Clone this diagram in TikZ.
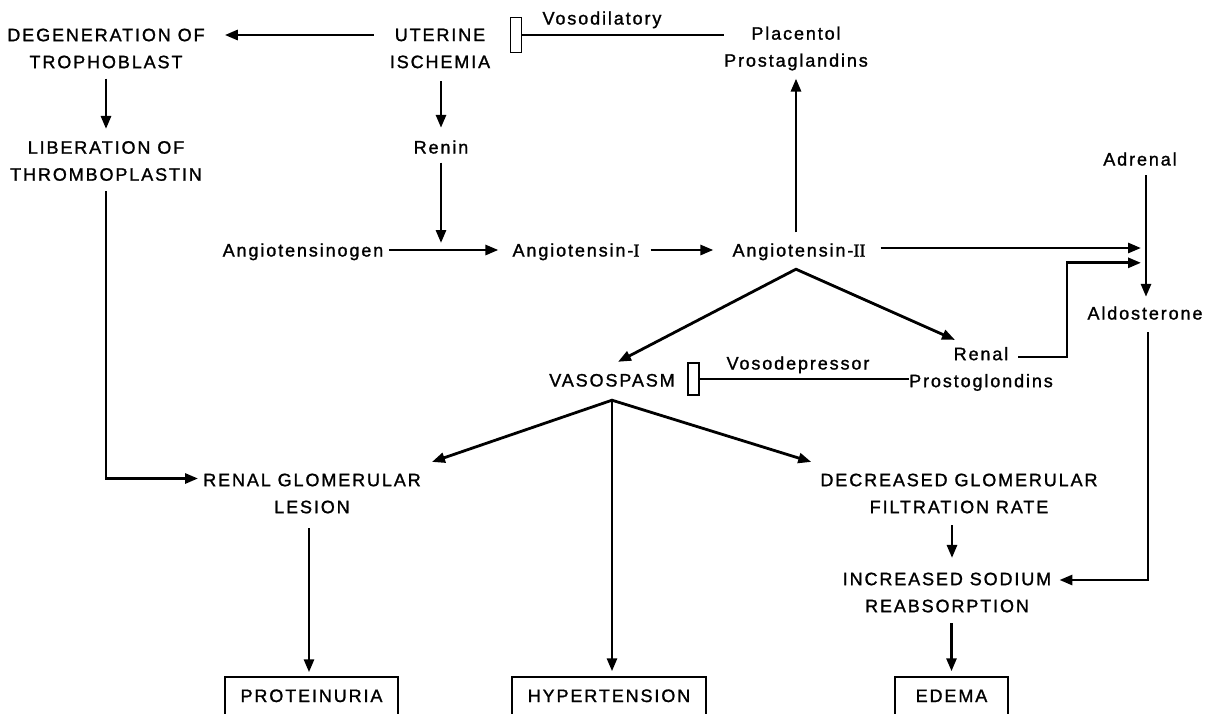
\documentclass[tikz,border=0pt]{standalone}
\usepackage{fontspec}
\setmainfont{Liberation Sans}[LetterSpace=10.5,FakeBold=1.3]
\newfontfamily\numfont{Liberation Serif}[FakeBold=1.3]
\usetikzlibrary{arrows.meta,calc}
\begin{document}
\begin{tikzpicture}[x=1pt,y=-1pt,
  every node/.style={inner sep=0pt, font=\fontsize{18}{27}\selectfont},
  lab/.style={text height=13pt, text depth=0pt},
  two/.style={align=center},
  arr/.style={line width=2.8pt, -{Triangle[length=13pt,width=10pt]}},
  arrboth/.style={line width=2.8pt, {Triangle[length=13pt,width=10pt]}-{Triangle[length=13pt,width=10pt]}},
  ln/.style={line width=2.6pt},
  bar/.style={draw, line width=1.5pt, minimum width=11pt, minimum height=35pt},
  res/.style={draw, line width=1.5pt, minimum height=41pt, text height=13pt, text depth=4pt}
]
\useasboundingbox (0,0) rectangle (1216,713);

% nodes
\node[two] (deg) at (106,48.5) {DEGENERATION OF\\TROPHOBLAST};
\node[two] (ut) at (440,48.5) {UTERINE\\ISCHEMIA};
\node[two] (plac) at (796,48.5) {Placentol\\Prostaglandins};
\node[bar] (bar1) at (516,35) {};
\node[lab] (vdil) at (602,18) {Vosodilatory};
\node[two] (lib) at (106,161) {LIBERATION OF\\THROMBOPLASTIN};
\node[lab] (renin) at (441,147) {Renin};
\node[lab] (agen) at (303,250) {Angiotensinogen};
\node[lab] (a1) at (576,250) {Angiotensin-{\numfont I}};
\node[lab] (a2) at (799,250) {Angiotensin-{\numfont II}};
\node[lab] (adr) at (1140,159) {Adrenal};
\node[lab] (aldo) at (1145,313) {Aldosterone};
\node[lab] (vaso) at (612,380) {VASOSPASM};
\node[bar, minimum height=32pt] (bar2) at (693.5,379) {};
\node[lab] (vdep) at (798,363) {Vosodepressor};
\node[two] (renal) at (981,369) {Renal\\Prostoglondins};
\node[two] (rgl) at (312,493.5) {RENAL GLOMERULAR\\LESION};
\node[two] (dgfr) at (959,493.5) {DECREASED GLOMERULAR\\FILTRATION RATE};
\node[two] (isr) at (947,592.5) {INCREASED SODIUM\\REABSORPTION};
\node[res, minimum width=173pt] (prot) at (311.5,697.5) {PROTEINURIA};
\node[res, minimum width=194pt] (hyp) at (609,697.5) {HYPERTENSION};
\node[res, minimum width=113pt] (ede) at (951.5,697.5) {EDEMA};

% connectors
\draw[arr] ([xshift=-16pt,yshift=13.5pt]ut.west) -- ([xshift=20pt,yshift=13.5pt]deg.east);
\draw[ln] ([yshift=13.5pt]plac.west) -- (bar1.east);
\draw[arr, shorten <=10pt, shorten >=12pt] (deg) -- (lib);
\draw[arr] ([yshift=-10pt]lib.south) |- ([xshift=-5pt,yshift=15pt]rgl.west);
\draw[arr] ($(ut.south -| renin)+(0,13)$) -- ($(renin.north)+(0,-12.5)$);
\coordinate (j1) at ($(renin |- agen)+(0,-7)$);
\draw[arr] ($(renin.south)+(0,9)$) -- (j1);
\draw[arr] ([xshift=6pt]agen.east) -- ([xshift=-14pt]a1.west);
\draw[arr] ([xshift=11pt]a1.east) -- ([xshift=-19pt]a2.west);
\draw[arr] ($(a2.north -| plac)+(0,-11)$) -- ($(plac.south)+(0,8)$);
\draw[arr] ($(a2.east)+(15,-2)$) -- ($(a2.east -| aldo)+(-4,-2)$);
\draw[arr] ($(adr.south -| aldo)+(1,9.5)$) -- ($(aldo.north)+(1,-9.5)$);
\draw[arr] ($(renal)+(37,-12)$) -- ($(renal)+(86,-12)$) |- ($(aldo.north)+(-4,-43.5)$);
\coordinate (ap1) at ($(a2.south)+(-3,12.5)$);
\draw[arrboth] ($(vaso.north)+(6,-11.5)$) -- (ap1) -- ($(renal.north)+(-26,-7)$);
\draw[ln] ([yshift=-10pt]renal.west) -- (bar2.east);
\coordinate (ap2) at ($(vaso.south)+(0,13.5)$);
\draw[arrboth] ($(rgl.north east)+(11,-11.5)$) -- (ap2) -- ($(dgfr.north west)+(-9,-11.5)$);
\draw[arr] (ap2) -- ($(ap2 |- hyp.north)+(0,-5)$);
\draw[arr] ($(rgl.south)+(-3,14.5)$) -- ($(rgl.south |- prot.north)+(-3,-4)$);
\draw[arr] ($(dgfr.south -| isr)+(5,11.5)$) -- ($(isr.north)+(5,-14.5)$);
\draw[arr] ($(isr.south -| ede)+(0,10.5)$) -- ($(ede.north)+(0,-5)$);
\draw[arr] ($(aldo.south)+(3,12.5)$) |- ($(isr.east)+(8,-12.5)$);
\end{tikzpicture}
\end{document}
